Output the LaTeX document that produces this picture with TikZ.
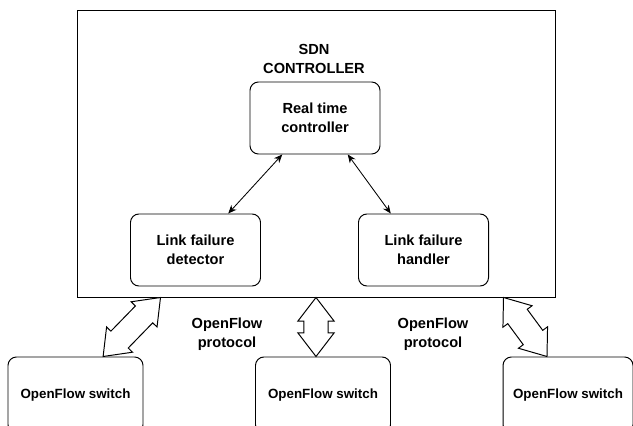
\documentclass[tikz,border=0pt]{standalone}
\usepackage{fontspec}
\setmainfont{Liberation Sans}
\usepackage{tikz}
\usetikzlibrary{arrows.meta,
                calc,
                positioning,
                shapes.arrows}

\tikzset{
  blk/.style={draw, rounded corners=6pt, line width=0.7pt,
              minimum width=3.25cm, minimum height=1.8cm, align=center,
              font=\fontsize{10.4}{13.6}\selectfont\bfseries},
  switchbox/.style={blk, minimum height=1.9cm,
              font=\fontsize{9.5}{12}\selectfont\bfseries},
  lbl/.style={align=center, font=\fontsize{10.4}{13.6}\selectfont\bfseries},
  biarrow/.style={{Stealth[length=6pt,width=5pt]}-{Stealth[length=6pt,width=5pt]}, line width=0.6pt},
  blockarrow/.style={double arrow, draw, fill=white, line width=0.7pt,
              inner xsep=0pt, inner ysep=0.29cm, minimum width=0pt,
              double arrow head extend=0.15cm, double arrow tip angle=75},
}

\begin{document}
\begin{tikzpicture}
\clip (0,0) rectangle (15.825,10.625);

% controller
\node[draw, line width=0.7pt, minimum width=11.95cm, minimum height=7.175cm] (ctrl) at (7.9,6.7875) {};
\node[lbl] (title) at (7.85,9.16) {SDN\\CONTROLLER};
\node[blk] (rtc) at (7.875,7.675) {Real time\\controller};
\node[blk] (det) at (4.8875,4.375) {Link failure\\detector};
\node[blk] (hdl) at (10.5875,4.375) {Link failure\\handler};

\draw[biarrow] ($(rtc.south)!0.5!(rtc.south west)$) -- ($(det.north)!0.5!(det.north east)$);
\draw[biarrow] ($(rtc.south)!0.5!(rtc.south east)$) -- ($(hdl.north)!0.5!(hdl.north west)$);

% switches
\foreach \i/\x/\w in {1/1.8875/3.375, 2/8.075/3.375, 3/14.2/3.25}
  \node[switchbox, minimum width=\w cm] (sw\i) at (\x,0.75) {OpenFlow switch};

\node[lbl] (proto1) at (5.675,2.275) {OpenFlow\\protocol};
\node[lbl] (proto2) at (10.825,2.275) {OpenFlow\\protocol};

\coordinate (l1) at ($(sw1.north)+(0.69,0)$);
\coordinate (l2) at ($(ctrl.south west)+(2.1,0)$);
\coordinate (m1) at (ctrl.south);
\coordinate (m2) at (ctrl.south |- sw2.north);
\coordinate (r1) at ($(sw3.north)+(-0.525,0)$);
\coordinate (r2) at ($(ctrl.south east)+(-1.3,0)$);

\foreach \a/\b in {l1/l2, m1/m2, r1/r2}
  \path let \p1=($(\b)-(\a)$), \n1={atan2(\y1,\x1)}, \n2={veclen(\x1,\y1)} in
    node[blockarrow, rotate=\n1, minimum height=\n2] (ba-\a) at ($(\a)!0.5!(\b)$) {};
\end{tikzpicture}
\end{document}
